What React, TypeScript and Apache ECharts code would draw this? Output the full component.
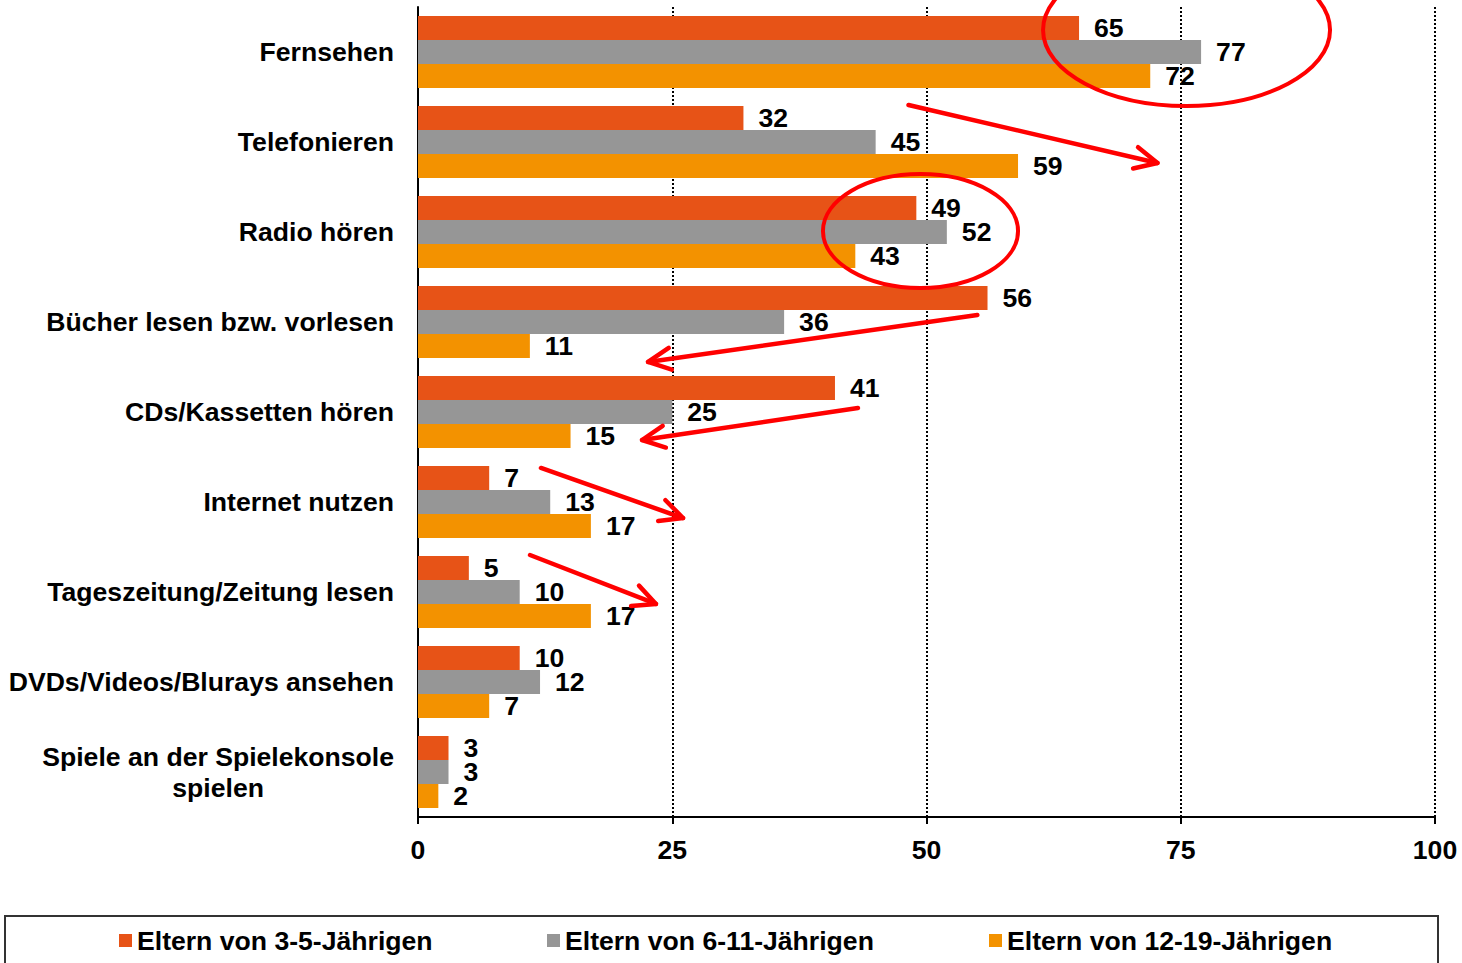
import React, { useEffect, useRef } from "react";
import * as echarts from "echarts";

const categories = [
  "Fernsehen",
  "Telefonieren",
  "Radio hören",
  "Bücher lesen bzw. vorlesen",
  "CDs/Kassetten hören",
  "Internet nutzen",
  "Tageszeitung/Zeitung lesen",
  "DVDs/Videos/Blurays ansehen",
  "Spiele an der Spielekonsole\nspielen",
];
const seriesNames = ["Eltern von 3-5-Jährigen", "Eltern von 6-11-Jährigen", "Eltern von 12-19-Jährigen"];
const values3to5 = [65, 32, 49, 56, 41, 7, 5, 10, 3];
const values6to11 = [77, 45, 52, 36, 25, 13, 10, 12, 3];
const values12to19 = [72, 59, 43, 11, 15, 17, 17, 7, 2];
const seriesColors = ["#E75317", "#969696", "#F39200"];
const xMin = 0;
const xMax = 100;
const xInterval = 25;

// annotations in data space: x = value, y = category index (fractional)
const ellipses = [
  { cx: 75.57, cy: -0.244, rx: 14.11, ry: 0.844 },
  { cx: 49.41, cy: 1.989, rx: 9.59, ry: 0.633 },
];
const arrows = [
  { x1: 48.23, y1: 0.589, x2: 72.71, y2: 1.233 },
  { x1: 55.0, y1: 2.922, x2: 22.62, y2: 3.444 },
  { x1: 43.26, y1: 3.956, x2: 22.03, y2: 4.311 },
  { x1: 12.09, y1: 4.622, x2: 26.06, y2: 5.178 },
  { x1: 11.01, y1: 5.589, x2: 23.4, y2: 6.133 },
];

const FONT = "'Liberation Sans', Arial, sans-serif";
const FS = 26.6;
const RED = "#FF0000";

export default function App() {
  const ref = useRef<HTMLDivElement>(null);
  useEffect(() => {
    if (!ref.current) return;
    const chart = echarts.init(ref.current, undefined, { renderer: "svg" });
    const allValues = [values3to5, values6to11, values12to19];
    const legendLefts = [119, 547, 989];
    const option: any = {
      animation: false,
      textStyle: { fontFamily: FONT },
      grid: { left: 418, right: 27, top: 7, bottom: 146, containLabel: false },
      xAxis: {
        type: "value",
        min: xMin,
        max: xMax,
        interval: xInterval,
        axisLine: { show: true, lineStyle: { color: "#000", width: 2 } },
        axisTick: { show: true, length: 7, lineStyle: { color: "#000", width: 2 } },
        axisLabel: { color: "#000", fontWeight: "bold", fontSize: FS, margin: 19, fontFamily: FONT },
        splitLine: { show: true, lineStyle: { color: "#000", type: [2, 2], width: 2 } },
      },
      yAxis: {
        type: "category",
        data: categories,
        inverse: true,
        axisLine: { show: true, lineStyle: { color: "#000", width: 2 } },
        axisTick: { show: false },
        axisLabel: {
          margin: 24,
          color: "#000",
          fontWeight: "bold",
          fontSize: FS,
          fontFamily: FONT,
          formatter: (v: string) =>
            v.includes("\n") ? v.split("\n").map((s) => `{c|${s}}`).join("\n") : v,
          rich: {
            c: { align: "center", color: "#000", fontWeight: "bold", fontSize: FS, fontFamily: FONT, lineHeight: 31 },
          },
        },
      },
      legend: seriesNames.map((name, i) => ({
        data: [name],
        left: legendLefts[i],
        top: 927,
        itemWidth: 13,
        itemHeight: 13,
        icon: "rect",
        padding: 0,
        textStyle: { color: "#000", fontWeight: "bold", fontSize: FS, fontFamily: FONT },
      })),
      series: seriesNames.map((name, i) => ({
        name,
        type: "bar",
        data: allValues[i],
        barGap: "0%",
        barCategoryGap: "20%",
        itemStyle: { color: seriesColors[i] },
        label: {
          show: true,
          position: "right",
          distance: 15,
          color: "#000",
          fontWeight: "bold",
          fontSize: FS,
          fontFamily: FONT,
        },
      })),
    };
    chart.setOption(option);

    const px = (v: number) => chart.convertToPixel({ xAxisIndex: 0 }, v) as number;
    const yA = chart.convertToPixel({ yAxisIndex: 0 }, categories[0]) as number;
    const yB = chart.convertToPixel({ yAxisIndex: 0 }, categories[1]) as number;
    const step = yB - yA;
    const py = (idx: number) => yA + idx * step;
    const unitX = px(1) - px(0);

    const graphics: any[] = [
      {
        type: "rect",
        shape: { x: 5, y: 916, width: 1433, height: 80 },
        style: { fill: "none", stroke: "#333", lineWidth: 2 },
        z: 1,
      },
    ];
    ellipses.forEach((e) => {
      graphics.push({
        type: "ellipse",
        shape: { cx: px(e.cx), cy: py(e.cy), rx: e.rx * unitX, ry: e.ry * Math.abs(step) },
        style: { fill: "none", stroke: RED, lineWidth: 4 },
        z: 100,
      });
    });
    arrows.forEach((a) => {
      const x1 = px(a.x1), y1 = py(a.y1), x2 = px(a.x2), y2 = py(a.y2);
      const ang = Math.atan2(y2 - y1, x2 - x1);
      const back = ang + Math.PI;
      const L = 25;
      const spread = (26 * Math.PI) / 180;
      const p1 = [x2 + L * Math.cos(back - spread), y2 + L * Math.sin(back - spread)];
      const p2 = [x2 + L * Math.cos(back + spread), y2 + L * Math.sin(back + spread)];
      graphics.push({
        type: "line",
        shape: { x1, y1, x2, y2 },
        style: { stroke: RED, lineWidth: 4.5, lineCap: "round" },
        z: 100,
      });
      graphics.push({
        type: "polyline",
        shape: { points: [p1, [x2, y2], p2] },
        style: { fill: "none", stroke: RED, lineWidth: 4.5, lineCap: "round", lineJoin: "round" },
        z: 100,
      });
    });
    chart.setOption({ graphic: graphics });

    return () => chart.dispose();
  }, []);
  return (
    <div
      ref={ref}
      style={{ position: "absolute", left: 0, top: 0, width: 1462, height: 963, background: "#fff" }}
    />
  );
}
